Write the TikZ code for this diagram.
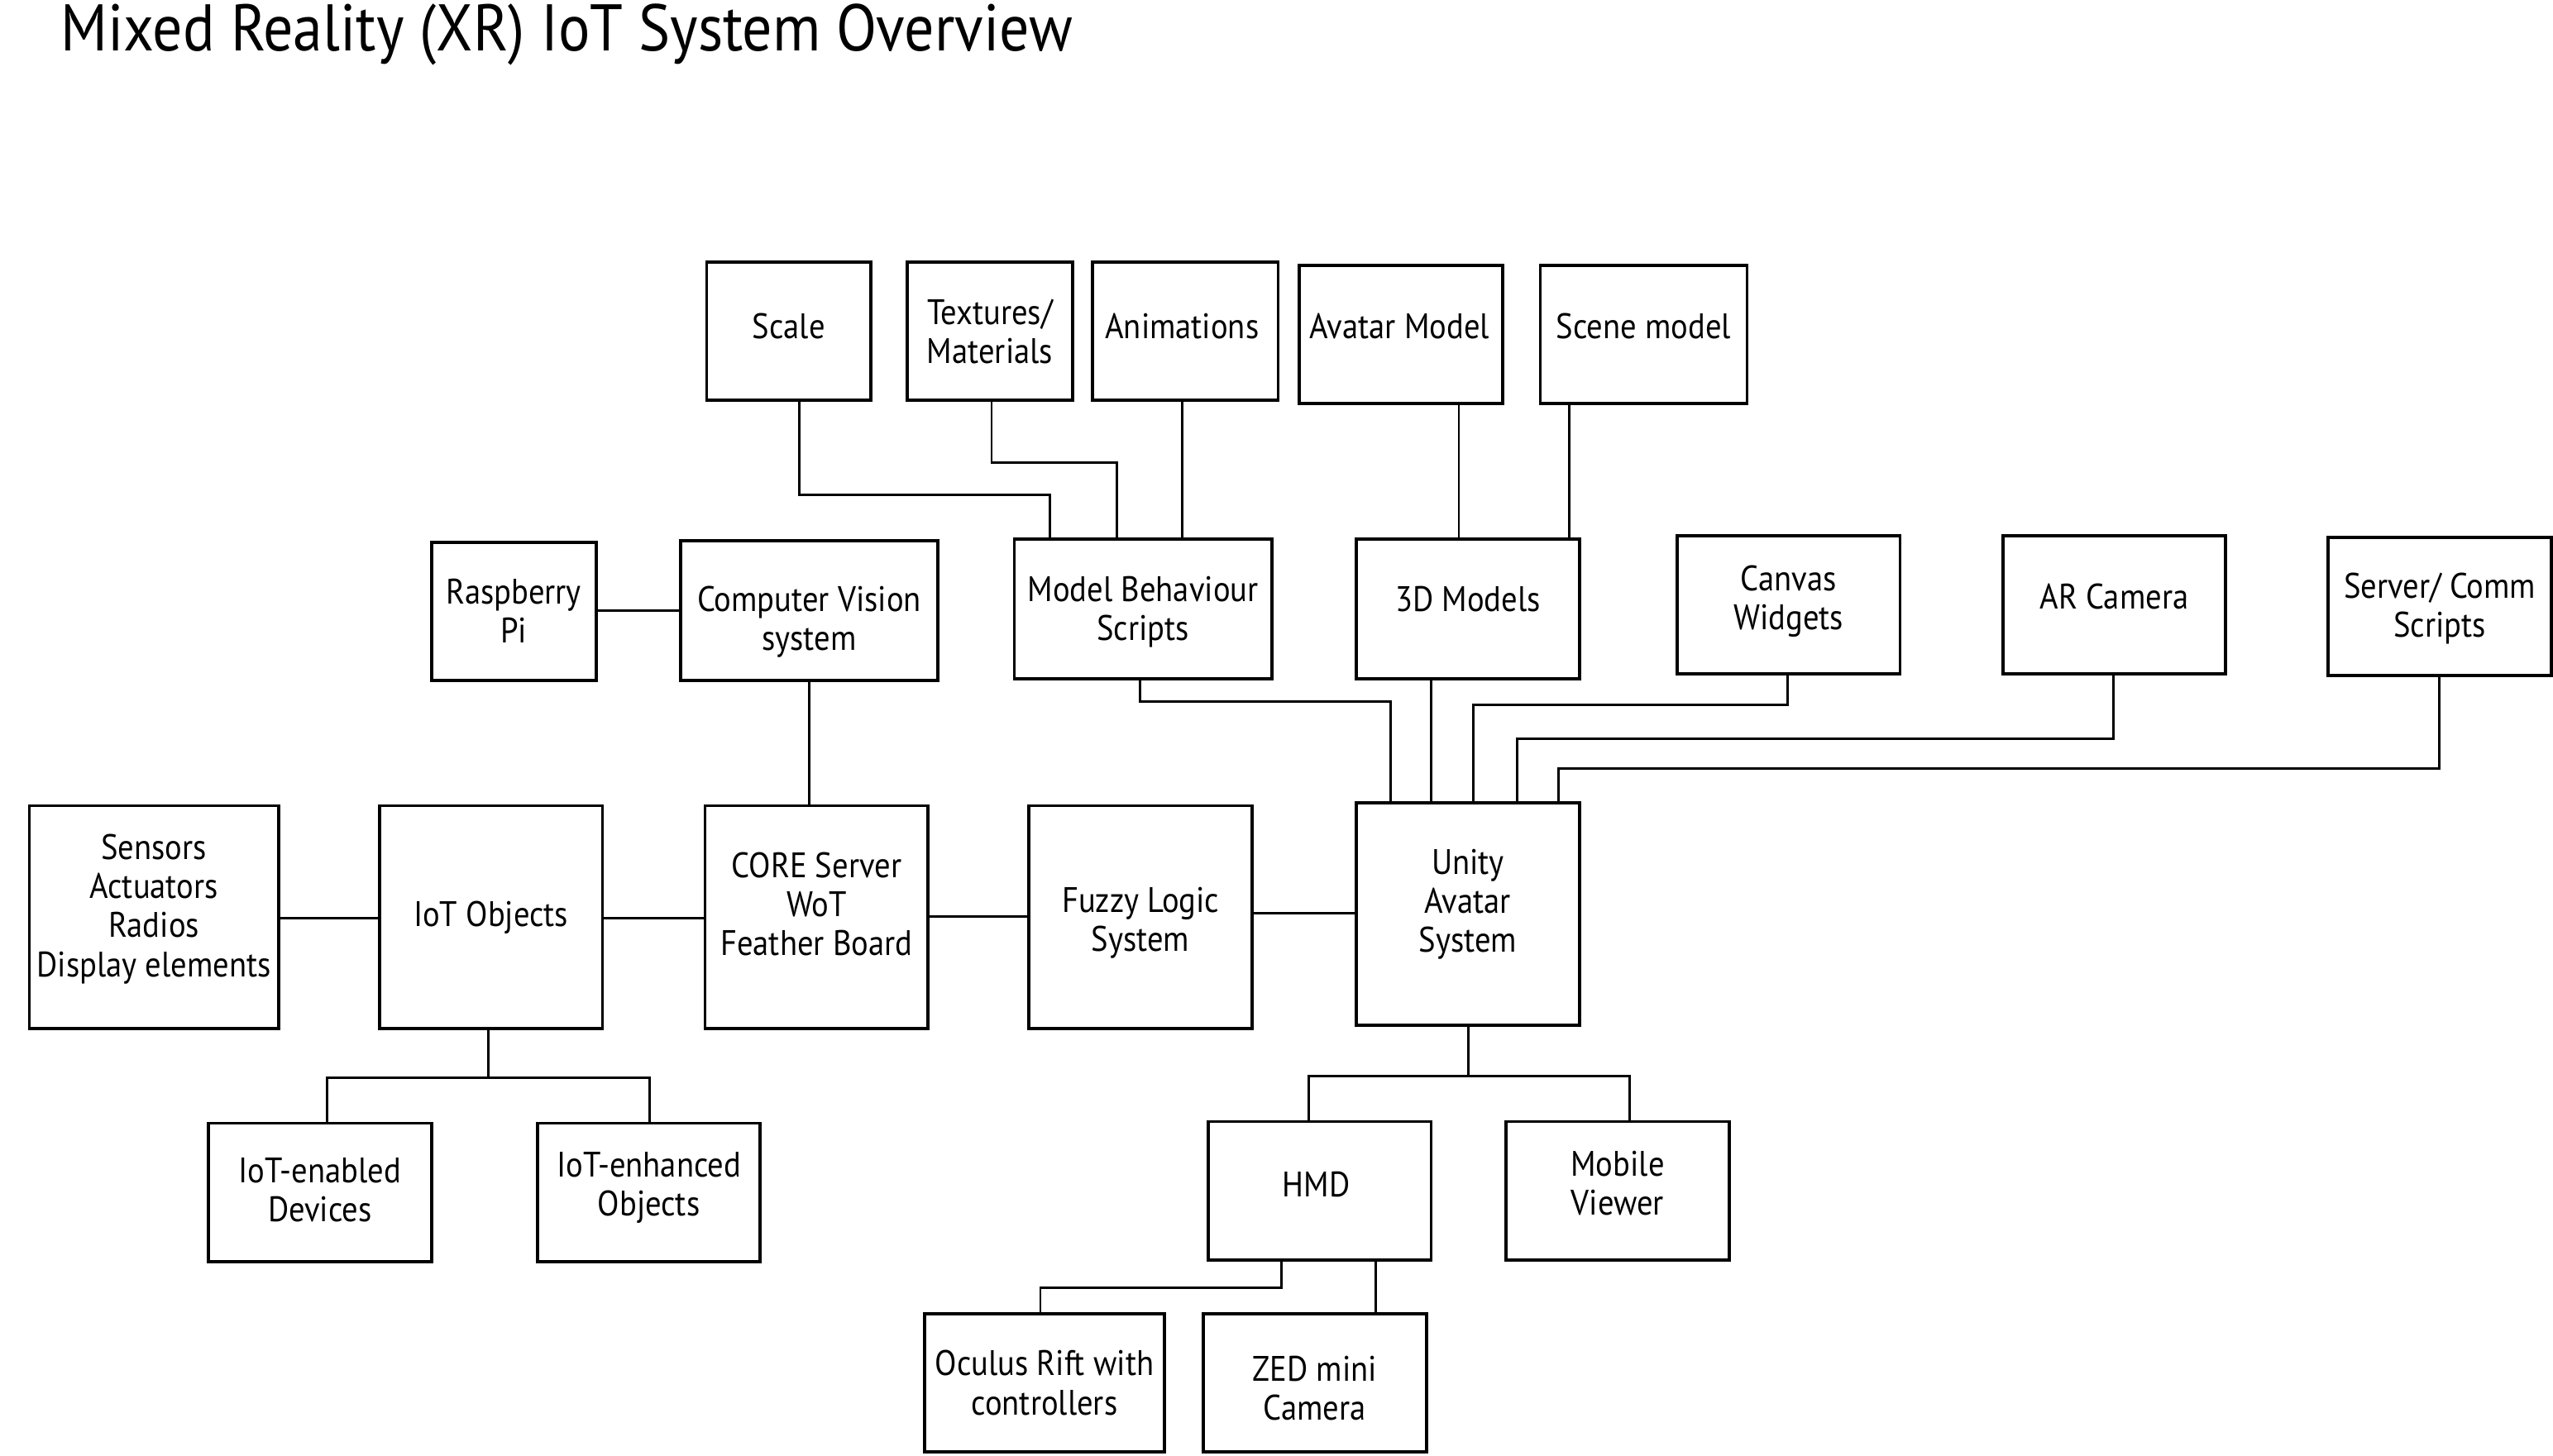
\documentclass[tikz,border=0pt]{standalone}
\usepackage{fontspec}
\setmainfont{PT Sans}[FakeStretch=0.9]
\usetikzlibrary{calc}
\tikzset{
  box/.style={draw=black, line width=1.1pt, inner sep=0pt},
  txt/.style={align=center, inner sep=0pt, font=\fontsize{12.2}{13.4}\selectfont},
  rect/.style n args={4}{minimum width={(#3-#1)*0.19688mm},
    minimum height={(#4-#2)*0.19688mm}, at={({(#1+#3)/2},{(#2+#4)/2})}},
  link/.style={draw=black, line width=0.8pt},
}
% a framed block: name, corners x1 y1 x2 y2, label offset dx dy, label
\newcommand\tbox[8]{%
  \node[box, rect={#2}{#3}{#4}{#5}] (#1) {};
  \node[txt] (#1-text) at ($(#1.center)+(#6,#7)$) {#8};}
\begin{document}
\begin{tikzpicture}[x=0.19688mm, y=-0.19688mm]
\useasboundingbox (0,0) rectangle (1568,894);

% title
\node[anchor=base west, inner sep=0, font=\fontsize{22.7}{26}\selectfont] (title) at (37,31)
  {Mixed Reality (XR) IoT System Overview};

% asset row
\tbox{scale}{434}{161}{535}{246}{0}{-3}{Scale}
\tbox{tex}{557}{161}{659}{246}{0}{0}{Textures/\\Materials}
\tbox{anim}{671}{161}{785}{246}{-2}{-3}{Animations}
\tbox{avatar}{798}{163}{923}{248}{-1}{-5}{Avatar Model}
\tbox{scene}{946}{163}{1073}{248}{0}{-5}{Scene model}

% component row
\tbox{rpi}{265}{333}{366}{418}{0}{0}{Raspberry\\Pi}
\tbox{cv}{418}{332}{576}{418}{0}{7}{Computer Vision\\system}
\tbox{mbs}{623}{331}{781}{417}{0}{2}{Model Behaviour\\Scripts}
\tbox{models}{833}{331}{970}{417}{0}{-6}{3D Models}
\tbox{canvas}{1030}{329}{1167}{414}{0}{-2}{Canvas\\Widgets}
\tbox{arcam}{1230}{329}{1367}{414}{0}{-5}{AR Camera}
\tbox{server}{1430}{330}{1567}{415}{0}{1.5}{Server/ Comm\\Scripts}

% main chain
\tbox{sensors}{18}{495}{171}{632}{0}{-5}{Sensors\\Actuators\\Radios\\Display elements}
\tbox{iot}{233}{495}{370}{632}{0}{0}{IoT Objects}
\tbox{core}{433}{495}{570}{632}{0}{-8}{CORE Server\\WoT\\Feather Board}
\tbox{fuzzy}{632}{495}{769}{632}{0}{3.5}{Fuzzy Logic\\System}
\tbox{unity}{833}{493}{970}{630}{0}{-6}{Unity\\Avatar\\System}

% lower rows
\tbox{devices}{128}{690}{265}{775}{0}{-1.5}{IoT-enabled\\Devices}
\tbox{objects}{330}{690}{467}{775}{0}{-3}{IoT-enhanced\\Objects}
\tbox{hmd}{742}{689}{879}{774}{-2}{-4}{HMD}
\tbox{mobile}{925}{689}{1062}{774}{0}{-4.5}{Mobile\\Viewer}
\tbox{oculus}{568}{807}{715}{892}{0}{0}{Oculus Rift with\\controllers}
\tbox{zed}{739}{807}{876}{892}{0}{3.5}{ZED mini\\Camera}

% assets into scripts and models
\draw[link] (scale.south -| 491,0) |- (645,304) -- (mbs.north -| 645,0);
\draw[link] (tex.south -| 609,0) |- (686,284) -- (mbs.north -| 686,0);
\draw[link] (anim.south -| 726,0) -- (mbs.north -| 726,0);
\draw[link] (avatar.south -| 896,0) -- (models.north -| 896,0);
\draw[link] (scene.south -| 964,0) -- (models.north -| 964,0);

% vision branch
\draw[link] (rpi.east |- 0,375) -- (cv.west |- 0,375);
\draw[link] (cv.south -| 497,0) -- (core.north -| 497,0);

% feeds into the avatar system
\draw[link] (mbs.south -| 700,0) |- (854,431) -- (unity.north -| 854,0);
\draw[link] (models.south -| 879,0) -- (unity.north -| 879,0);
\draw[link] (canvas.south -| 1098,0) |- (905,433) -- (unity.north -| 905,0);
\draw[link] (arcam.south -| 1298,0) |- (932,454) -- (unity.north -| 932,0);
\draw[link] (server.south -| 1498,0) |- (957,472) -- (unity.north -| 957,0);

% main chain links
\draw[link] (sensors.east |- 0,564) -- (iot.west |- 0,564);
\draw[link] (iot.east |- 0,564) -- (core.west |- 0,564);
\draw[link] (core.east |- 0,563) -- (fuzzy.west |- 0,563);
\draw[link] (fuzzy.east |- 0,561) -- (unity.west |- 0,561);

% IoT object types
\draw[link] (iot.south -| 300,0) -- (300,662);
\draw[link] (devices.north -| 201,0) |- (300,662) -| (objects.north -| 399,0);

% viewers
\draw[link] (unity.south -| 902,0) -- (902,661);
\draw[link] (hmd.north -| 804,0) |- (902,661) -| (mobile.north -| 1001,0);

% HMD hardware
\draw[link] (hmd.south -| 787,0) |- (639,791) -- (oculus.north -| 639,0);
\draw[link] (hmd.south -| 845,0) -- (zed.north -| 845,0);
\end{tikzpicture}
\end{document}
